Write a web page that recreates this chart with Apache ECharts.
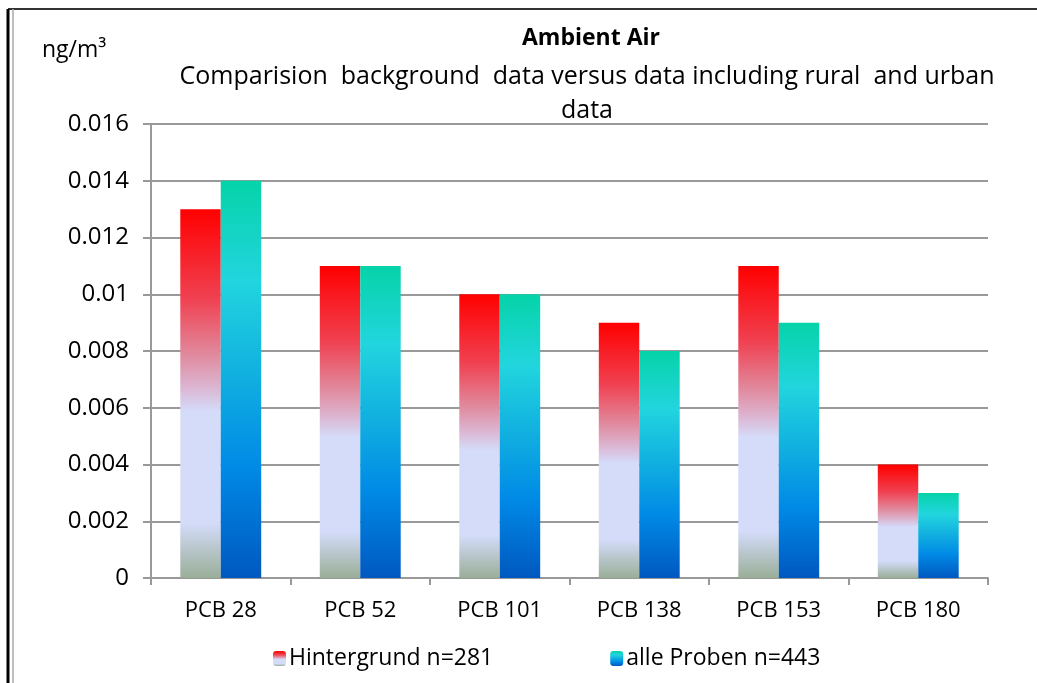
<!DOCTYPE html>
<html>
<head>
<meta charset="utf-8">
<script src="https://cdn.jsdelivr.net/npm/echarts@6/dist/echarts.min.js"></script>
<style>html,body{margin:0;padding:0;background:#fff;}#c{width:1037px;height:683px;}</style>
</head>
<body>
<div id="c"></div>
<script>
const categories = ['PCB 28', 'PCB 52', 'PCB 101', 'PCB 138', 'PCB 153', 'PCB 180'];
const hintergrund = [0.013, 0.011, 0.010, 0.009, 0.011, 0.004];
const alleProben = [0.014, 0.011, 0.010, 0.008, 0.009, 0.003];
const seriesNames = ['Hintergrund n=281', 'alle Proben n=443'];
const yTicks = ['0', '0.002', '0.004', '0.006', '0.008', '0.01', '0.012', '0.014', '0.016'];

const FONT = '"Open Sans", "Noto Sans", sans-serif';
const chart = echarts.init(document.getElementById('c'), null, {renderer: 'canvas'});

const redGrad = new echarts.graphic.LinearGradient(0, 0, 0, 1, [
  {offset: 0, color: '#ff0000'},
  {offset: 0.24, color: '#f04050'},
  {offset: 0.40, color: '#e08ca0'},
  {offset: 0.48, color: '#dcb4d0'},
  {offset: 0.55, color: '#d4dcfa'},
  {offset: 0.85, color: '#d4dcfa'},
  {offset: 1, color: '#9aae98'}
]);
const tealGrad = new echarts.graphic.LinearGradient(0, 0, 0, 1, [
  {offset: 0, color: '#05d3a8'},
  {offset: 0.25, color: '#22d5de'},
  {offset: 0.5, color: '#10aee0'},
  {offset: 0.72, color: '#008ae6'},
  {offset: 1, color: '#0058c0'}
]);

chart.setOption({
  animation: false,
  backgroundColor: '#fff',
  title: [
    {text: 'Ambient Air', left: 586, top: 22, textAlign: 'center',
     textStyle: {fontFamily: FONT, fontWeight: 'bold', fontSize: 23, color: '#000'}},
    {text: 'Comparision  background  data versus data including rural  and urban\ndata', left: 582, top: 55, textAlign: 'center',
     textStyle: {fontFamily: FONT, fontWeight: 'normal', fontSize: 25, lineHeight: 34, color: '#000'}},
    {text: 'ng/m³', left: 37, top: 34,
     textStyle: {fontFamily: FONT, fontWeight: 'normal', fontSize: 23, color: '#000'}}
  ],
  graphic: [
    {type: 'line', shape: {x1: 8, y1: 9, x2: 1037, y2: 9}, style: {stroke: '#333', lineWidth: 2}},
    {type: 'line', shape: {x1: 8, y1: 9, x2: 8, y2: 683}, style: {stroke: '#000', lineWidth: 3}},
    {type: 'line', shape: {x1: 13, y1: 9, x2: 13, y2: 683}, style: {stroke: '#aaa', lineWidth: 1.5}}
  ],
  legend: {
    bottom: 8, left: 268,
    itemWidth: 13, itemHeight: 15, itemGap: 117,
    textStyle: {fontFamily: FONT, fontSize: 23, color: '#000', padding: [0, 0, 0, -2]},
    data: seriesNames
  },
  grid: {left: 151, right: 49, top: 124, bottom: 105},
  xAxis: {
    type: 'category',
    data: categories,
    axisLine: {lineStyle: {color: '#999', width: 2}},
    axisTick: {show: true, length: 7, lineStyle: {color: '#999', width: 2}},
    axisLabel: {fontFamily: FONT, fontSize: 22, color: '#000', margin: 22}
  },
  yAxis: {
    type: 'value', min: 0, max: 0.016, interval: 0.002,
    axisLine: {show: true, lineStyle: {color: '#999', width: 2}},
    axisTick: {show: true, length: 8, lineStyle: {color: '#999', width: 2}},
    splitLine: {lineStyle: {color: '#999', width: 2}},
    axisLabel: {fontFamily: FONT, fontSize: 24, color: '#000', margin: 22,
      formatter: function (v) { return yTicks[Math.round(v / 0.002)]; }}
  },
  series: [
    {name: seriesNames[0], type: 'bar', data: hintergrund, barGap: '0%', barCategoryGap: '42%',
     itemStyle: {color: redGrad}},
    {name: seriesNames[1], type: 'bar', data: alleProben, barGap: '0%', barCategoryGap: '42%',
     itemStyle: {color: tealGrad}}
  ]
});
</script>
</body>
</html>
